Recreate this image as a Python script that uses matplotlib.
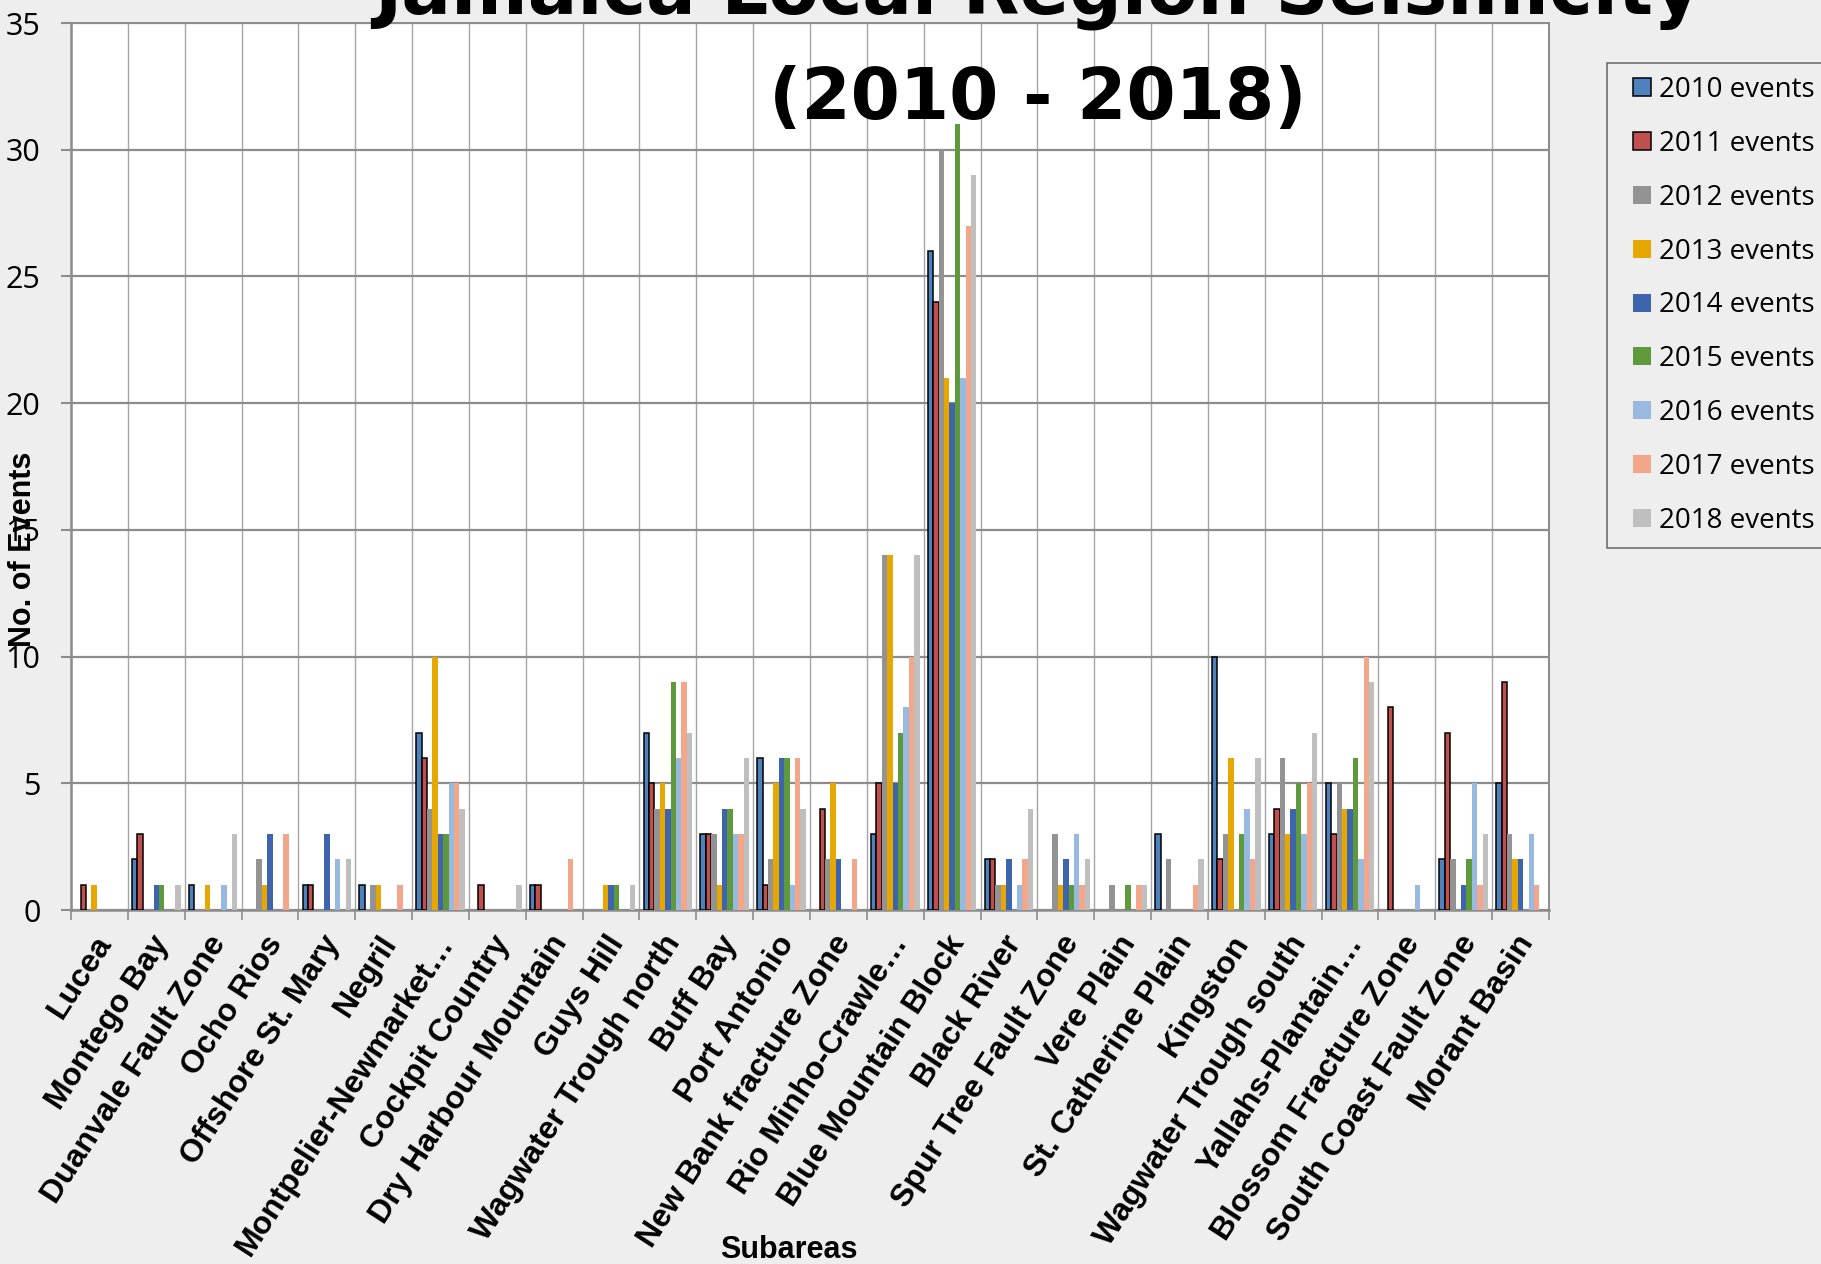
import matplotlib
matplotlib.use("Agg")
import matplotlib.pyplot as plt
import matplotlib.patches as mpatches
import matplotlib.transforms as mtransforms
from matplotlib.legend_handler import HandlerPatch
import numpy as np

subareas = ["Lucea", "Montego Bay", "Duanvale Fault Zone", "Ocho Rios",
            "Offshore St. Mary", "Negril", "Montpelier-Newmarket\u2026",
            "Cockpit Country", "Dry Harbour Mountain", "Guys Hill",
            "Wagwater Trough north", "Buff Bay", "Port Antonio",
            "New Bank fracture Zone", "Rio Minho-Crawle\u2026",
            "Blue Mountain Block", "Black River", "Spur Tree Fault Zone",
            "Vere Plain", "St. Catherine Plain", "Kingston",
            "Wagwater Trough south", "Yallahs-Plantain\u2026",
            "Blossom Fracture Zone", "South Coast Fault Zone", "Morant Basin"]

years = ["2010", "2011", "2012", "2013", "2014", "2015", "2016", "2017", "2018"]

ev2010 = [0, 2, 1, 0, 1, 1, 7, 0, 1, 0, 7, 3, 6, 0, 3, 26, 2, 0, 0, 3, 10, 3, 5, 0, 2, 5]
ev2011 = [1, 3, 0, 0, 1, 0, 6, 1, 1, 0, 5, 3, 1, 4, 5, 24, 2, 0, 0, 0, 2, 4, 3, 8, 7, 9]
ev2012 = [0, 0, 0, 2, 0, 1, 4, 0, 0, 0, 4, 3, 2, 2, 14, 30, 1, 3, 1, 2, 3, 6, 5, 0, 2, 3]
ev2013 = [1, 0, 1, 1, 0, 1, 10, 0, 0, 1, 5, 1, 5, 5, 14, 21, 1, 1, 0, 0, 6, 3, 4, 0, 0, 2]
ev2014 = [0, 1, 0, 3, 3, 0, 3, 0, 0, 1, 4, 4, 6, 2, 5, 20, 2, 2, 0, 0, 0, 4, 4, 0, 1, 2]
ev2015 = [0, 1, 0, 0, 0, 0, 3, 0, 0, 1, 9, 4, 6, 0, 7, 31, 0, 1, 1, 0, 3, 5, 6, 0, 2, 0]
ev2016 = [0, 0, 1, 0, 2, 0, 5, 0, 0, 0, 6, 3, 1, 0, 8, 21, 1, 3, 0, 0, 4, 3, 2, 1, 5, 3]
ev2017 = [0, 0, 0, 3, 0, 1, 5, 0, 2, 0, 9, 3, 6, 2, 10, 27, 2, 1, 1, 1, 2, 5, 10, 0, 1, 1]
ev2018 = [0, 1, 3, 0, 2, 0, 4, 1, 0, 1, 7, 6, 4, 0, 14, 29, 4, 2, 1, 2, 6, 7, 9, 0, 3, 0]

series = [ev2010, ev2011, ev2012, ev2013, ev2014, ev2015, ev2016, ev2017, ev2018]
colors = ["#4f81bd", "#c0504d", "#939393", "#e6a700", "#3e64ad",
          "#5e9a3c", "#99bae0", "#f3a78a", "#bfbfbf"]
outlined = ["2010", "2011"]

bg = "#eeeeee"
fig = plt.figure(figsize=(18.21, 12.64), dpi=100, facecolor=bg)
ax = fig.add_axes([0.03899, 0.28006, 0.81164, 0.70174])
ax.set_facecolor("white")

x = np.arange(len(subareas))
w = 0.095
handles = []
for i, (yr, vals, col) in enumerate(zip(years, series, colors)):
    vals = np.array(vals)
    if yr in outlined:
        edges = ["black" if v > 0 else "none" for v in vals]
        lw = 1.1
    else:
        edges = "none"
        lw = 0
    ax.bar(x + (i - 4) * w, vals, w, color=col, edgecolor=edges,
           linewidth=lw, zorder=3)
    handles.append(mpatches.Patch(facecolor=col,
                                  edgecolor="black" if yr in outlined else "none",
                                  linewidth=lw, label=yr + " events"))

ax.set_xlim(-0.5, len(subareas) - 0.5)
ax.set_ylim(0, 35)
ax.set_yticks(range(0, 36, 5))
ax.set_axisbelow(True)

ax.set_xticks(x)
ax.set_xticklabels(subareas, rotation=57, ha="right", va="top",
                   rotation_mode="anchor", fontfamily="Liberation Sans",
                   fontweight="bold", fontsize=23)
ax.set_xticks(np.arange(-0.5, len(subareas), 1), minor=True)
ax.tick_params(axis="x", which="major", length=0, pad=0)
ax.tick_params(axis="x", which="minor", length=7, width=1.2, color="#8c8c8c")
ax.tick_params(axis="y", length=7, width=1.5, color="#8c8c8c", pad=15,
               labelsize=22)
for lab in ax.get_yticklabels():
    lab.set_fontfamily("Open Sans")

offset = mtransforms.ScaledTranslation(-0.06, -0.20, fig.dpi_scale_trans)
for lab in ax.get_xticklabels():
    lab.set_transform(lab.get_transform() + offset)

ax.grid(axis="x", which="minor", color="#a6a6a6", linewidth=1.0)
ax.grid(axis="y", which="major", color="#8c8c8c", linewidth=1.6)
for sp in ax.spines.values():
    sp.set_color("#8c8c8c")
    sp.set_linewidth(1.4)
ax.spines["left"].set_linewidth(1.8)
ax.spines["bottom"].set_linewidth(1.8)

fig.text(0.570, 0.9897, "Jamaica Local Region Seismicity", ha="center",
         va="baseline", fontsize=53, fontweight="bold", family="DejaVu Sans")
fig.text(0.570, 0.9059, "(2010 - 2018)", ha="center", va="baseline",
         fontsize=51, fontweight="bold", family="DejaVu Sans")

fig.text(0.0124, 0.5657, "No. of Events", rotation=90, ha="center",
         va="center", fontsize=22, fontweight="bold", family="Liberation Sans")
fig.text(0.433, 0.0047, "Subareas", ha="center", va="baseline",
         fontsize=22, fontweight="bold", family="Liberation Sans")


def square(legend, orig_handle, xdescent, ydescent, width, height, fontsize):
    s = 0.65 * fontsize
    return mpatches.Rectangle((-xdescent + width - s, -ydescent + (height - s) / 2), s, s)


leg = fig.legend(handles=handles, loc="upper left",
                 bbox_to_anchor=(0.8825, 0.9502), frameon=True,
                 fancybox=False, prop={"family": "Open Sans", "size": 20},
                 handlelength=1.12, handleheight=0.65, handletextpad=0.29,
                 labelspacing=0.93, borderpad=0.47, borderaxespad=0,
                 handler_map={mpatches.Patch: HandlerPatch(patch_func=square)})
leg.get_frame().set_facecolor(bg)
leg.get_frame().set_edgecolor("#444444")
leg.get_frame().set_linewidth(1.1)

fig.savefig("out.png", dpi=100, facecolor=bg)
